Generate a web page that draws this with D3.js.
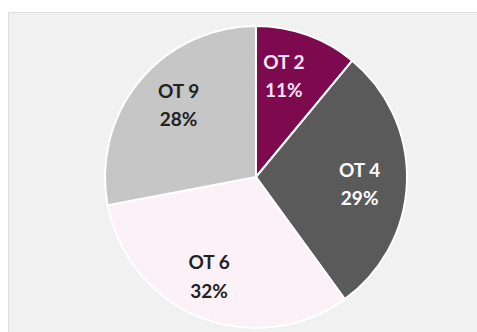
<!DOCTYPE html>
<html>
<head>
<meta charset="utf-8">
<script src="https://cdn.jsdelivr.net/npm/d3@7"></script>
<style>
  html, body { margin: 0; padding: 0; background: #ffffff; }
  svg { display: block; }
</style>
</head>
<body>
<svg id="chart" width="477" height="332"></svg>
<script>
// Share of each OT group, in percent
const categories = ["OT 2", "OT 4", "OT 6", "OT 9"];
const values = [11, 29, 32, 28];
const sliceColors = ["#7d0a4e", "#5a5a5a", "#fdf1f8", "#c6c6c6"];
const labelColors = ["#ffe3f3", "#ffffff", "#222222", "#222222"];

const width = 477, height = 332;
const cx = 256, cy = 177, radius = 151;

const svg = d3.select("#chart");

// Light panel behind the chart
svg.append("rect")
  .attr("x", 8.5).attr("y", 12.5)
  .attr("width", width).attr("height", height)
  .attr("fill", "#f1f1f1")
  .attr("stroke", "#dedede")
  .attr("stroke-width", 1);

const data = categories.map((c, i) => ({ name: c, value: values[i], fill: sliceColors[i], text: labelColors[i] }));

const pie = d3.pie().sort(null).value(d => d.value).startAngle(0).endAngle(2 * Math.PI);
const arcs = pie(data);

const arc = d3.arc().innerRadius(0).outerRadius(radius);
const labelArc = d3.arc().innerRadius(radius * 0.7).outerRadius(radius * 0.7);

const g = svg.append("g").attr("transform", `translate(${cx},${cy})`);

g.selectAll("path.slice")
  .data(arcs)
  .join("path")
  .attr("class", "slice")
  .attr("d", arc)
  .attr("fill", d => d.data.fill)
  .attr("stroke", "#ffffff")
  .attr("stroke-width", 2)
  .attr("stroke-linejoin", "round");

// Labels sit inside each slice; the narrow first slice pulls its label toward the centre line
const nudge = { "OT 2": [-8, -5], "OT 4": [-2, 0], "OT 6": [-8, -2], "OT 9": [4, -8] };

const labels = g.selectAll("text.lbl")
  .data(arcs)
  .join("text")
  .attr("class", "lbl")
  .attr("transform", d => {
    const [x, y] = labelArc.centroid(d);
    const [nx, ny] = nudge[d.data.name];
    return `translate(${x + nx},${y + ny})`;
  })
  .attr("text-anchor", "middle")
  .attr("fill", d => d.data.text)
  .style("font-family", "Lato, 'Open Sans', sans-serif")
  .style("font-weight", "700")
  .style("font-size", "19px");

labels.append("tspan")
  .attr("x", 0).attr("dy", "-0.2em")
  .text(d => d.data.name);
labels.append("tspan")
  .attr("x", 0).attr("dy", "1.5em")
  .text(d => d.data.value + "%");
</script>
</body>
</html>
